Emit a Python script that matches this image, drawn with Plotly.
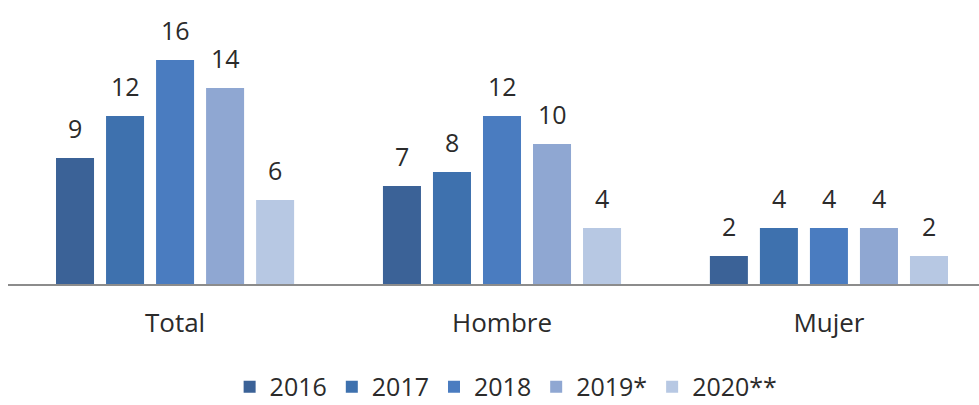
import plotly.graph_objects as go

categories = ["Total", "Hombre", "Mujer"]
years = ["2016", "2017", "2018", "2019*", "2020**"]
values = {
    "2016": [9, 7, 2],
    "2017": [12, 8, 4],
    "2018": [16, 12, 4],
    "2019*": [14, 10, 4],
    "2020**": [6, 4, 2],
}
colors = ["#3b6297", "#3e71ae", "#4a7cc0", "#8fa7d2", "#b7c8e3"]

FONT = "Open Sans"
TEXT_COLOR = "#2b2b2b"
BARGAP = 0.235
BARGROUPGAP = 0.24

fig = go.Figure()
for year, color in zip(years, colors):
    fig.add_trace(go.Bar(
        name=year,
        x=categories,
        y=values[year],
        marker=dict(color=color, line=dict(width=0)),
    ))

# value labels above each bar, centred on the grouped bar positions
n = len(years)
slot = (1 - BARGAP) / n
annotations = []
for i, year in enumerate(years):
    for j, v in enumerate(values[year]):
        annotations.append(dict(
            x=j - (1 - BARGAP) / 2 + slot * (i + 0.5),
            y=v,
            xref="x", yref="y",
            text=str(v),
            showarrow=False,
            yanchor="bottom",
            yshift=11,
            font=dict(family=FONT, size=25, color=TEXT_COLOR),
        ))

fig.update_layout(
    width=979,
    height=405,
    margin=dict(l=8, r=0, t=20, b=121, autoexpand=False),
    paper_bgcolor="white",
    plot_bgcolor="white",
    barmode="group",
    bargap=BARGAP,
    bargroupgap=BARGROUPGAP,
    annotations=annotations,
    showlegend=True,
    legend=dict(
        orientation="h",
        x=0.513, xanchor="center",
        y=-0.303, yanchor="top",
        font=dict(family=FONT, size=25, color=TEXT_COLOR),
        itemwidth=30,
        traceorder="normal",
    ),
    xaxis=dict(
        range=[-0.511, 2.459],
        automargin=False,
        showline=True,
        linecolor="#8c8c8c",
        linewidth=2,
        ticks="",
        tickfont=dict(family=FONT, size=26, color=TEXT_COLOR),
        ticklabelstandoff=15,
        showgrid=False,
    ),
    yaxis=dict(
        range=[0, 264 / 14],
        visible=False,
        showgrid=False,
    ),
)

fig.write_html("out.html")
